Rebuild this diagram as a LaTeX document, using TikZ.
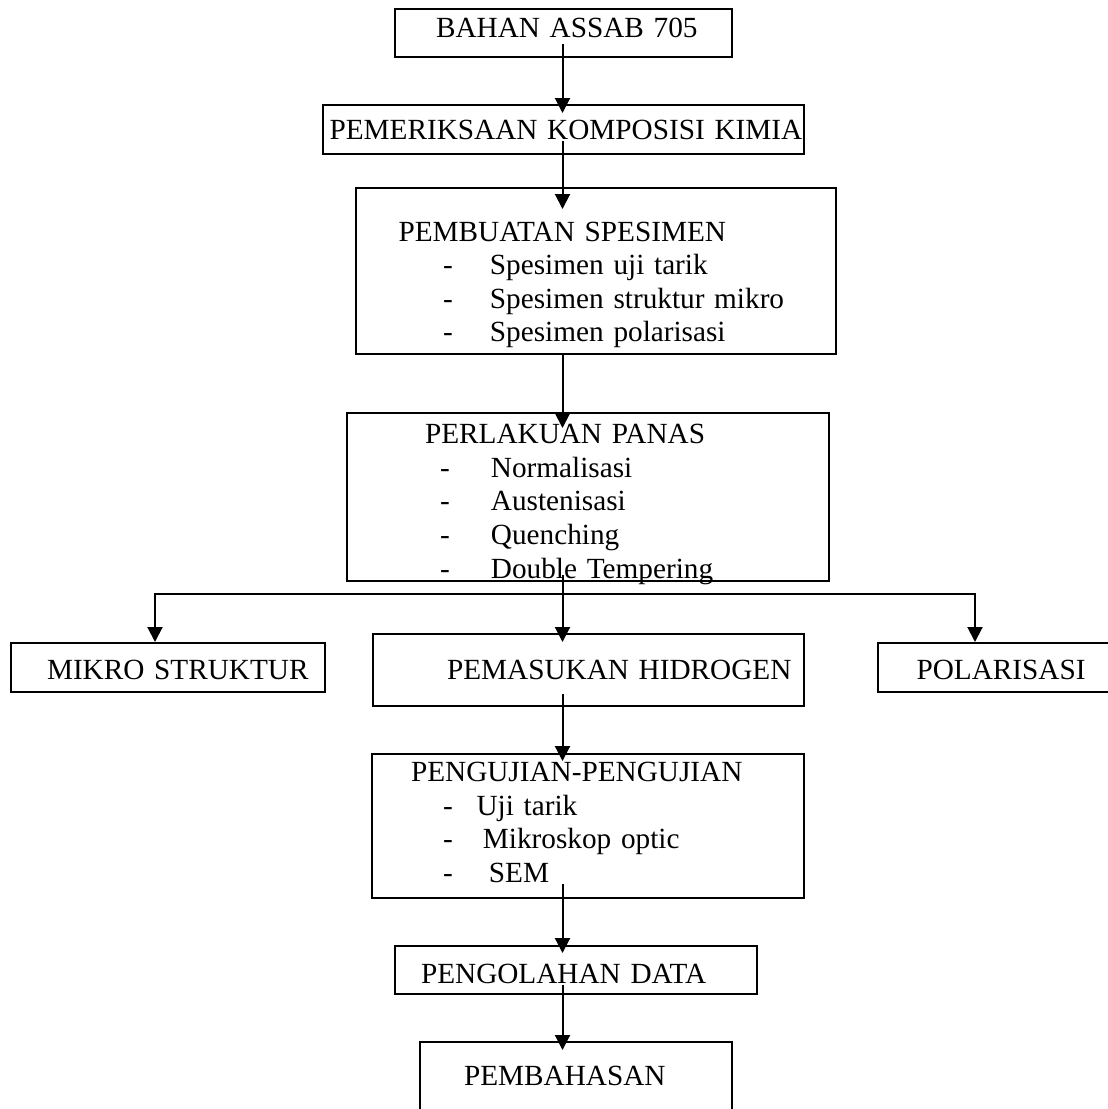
\documentclass[tikz,border=0pt]{standalone}
\usepackage{fontspec}
\setmainfont{Liberation Serif}
\usetikzlibrary{arrows.meta,calc}
\newcommand\boxfont{\fontsize{29.25pt}{33.6pt}\selectfont}
\newcommand\listline[3]{\makebox[#2pt][l]{\hspace*{#1pt}-}#3}
\begin{document}
\begin{tikzpicture}[x=1pt, y=-1pt, line width=2pt,
    flowbox/.style={draw, anchor=north west, inner sep=0pt, align=left, font=\boxfont},
    flowarrow/.style={-{Triangle[length=15pt,width=15pt]}},
    forkarrow/.style={{Triangle[length=15pt,width=15pt]}-{Triangle[length=15pt,width=15pt]}}]
    \useasboundingbox (0,0) rectangle (1108,1109);
    \coordinate (spine) at (562.5,0);
    \node[flowbox, text width=337pt, text height=28pt, text depth=20pt] (bahan) at (394,8)
        {\hspace*{41pt}BAHAN ASSAB 705};
    \node[flowbox, text width=481pt, text height=34pt, text depth=15pt] (periksa) at (322,104)
        {\hspace*{6.5pt}PEMERIKSAAN KOMPOSISI KIMIA};
    \node[flowbox, text width=480pt, text height=53pt, text depth=113pt] (spesimen) at (355,187)
        {\hspace*{42.5pt}PEMBUATAN SPESIMEN\\
         \listline{87}{134}{Spesimen uji tarik}\\
         \listline{87}{134}{Spesimen struktur mikro}\\
         \listline{87}{134}{Spesimen polarisasi}};
    \node[flowbox, text width=482pt, text height=30.7pt, text depth=137.3pt] (panas) at (346,412)
        {\hspace*{78pt}PERLAKUAN PANAS\\
         \listline{93}{144}{Normalisasi}\\
         \listline{93}{144}{Austenisasi}\\
         \listline{93}{144}{Quenching}\\
         \listline{93}{144}{Double Tempering}};
    \node[flowbox, text width=314pt, text height=36pt, text depth=13pt] (mikro) at (10,642)
        {\hspace*{36pt}MIKRO STRUKTUR};
    \node[flowbox, text width=431pt, text height=45pt, text depth=27pt] (hidrogen) at (372,633)
        {\hspace*{74pt}PEMASUKAN HIDROGEN};
    \node[flowbox, text width=240pt, text height=36pt, text depth=13pt] (polar) at (877,642)
        {\hspace*{38.5pt}POLARISASI};
    \node[flowbox, text width=432pt, text height=27.7pt, text depth=116.3pt] (uji) at (371,753)
        {\hspace*{39pt}PENGUJIAN-PENGUJIAN\\
         \listline{71}{104.6}{Uji tarik}\\
         \listline{71}{111}{Mikroskop optic}\\
         \listline{71}{117}{SEM}};
    \node[flowbox, text width=362pt, text height=37pt, text depth=11pt] (olah) at (394,945)
        {\hspace*{26pt}PENGOLAHAN DATA};
    \node[flowbox, text width=312pt, text height=43pt, text depth=32pt] (bahas) at (419,1041)
        {\hspace*{44pt}PEMBAHASAN};
    \draw[flowarrow] ($(bahan.south -| spine)+(0,-14)$) -- ($(periksa.north -| spine)+(0,9)$);
    \draw[flowarrow] ($(periksa.south -| spine)+(0,-14)$) -- ($(spesimen.north -| spine)+(0,22)$);
    \draw[flowarrow] (spesimen.south -| spine) -- ($(panas.north -| spine)+(0,16)$);
    \draw[flowarrow] ($(panas.south -| spine)+(0,-7)$) -- ($(hidrogen.north -| spine)+(0,9)$);
    \coordinate (forkL) at (155,594);
    \coordinate (forkR) at (975,594);
    \draw[forkarrow] (forkL |- mikro.north) -- (forkL) -- (forkR) -- (forkR |- polar.north);
    \draw[flowarrow] ($(hidrogen.south -| spine)+(0,-13)$) -- ($(uji.north -| spine)+(0,8)$);
    \draw[flowarrow] ($(uji.south -| spine)+(0,-15)$) -- ($(olah.north -| spine)+(0,8)$);
    \draw[flowarrow] ($(olah.south -| spine)+(0,-10)$) -- ($(bahas.north -| spine)+(0,9)$);
\end{tikzpicture}
\end{document}
